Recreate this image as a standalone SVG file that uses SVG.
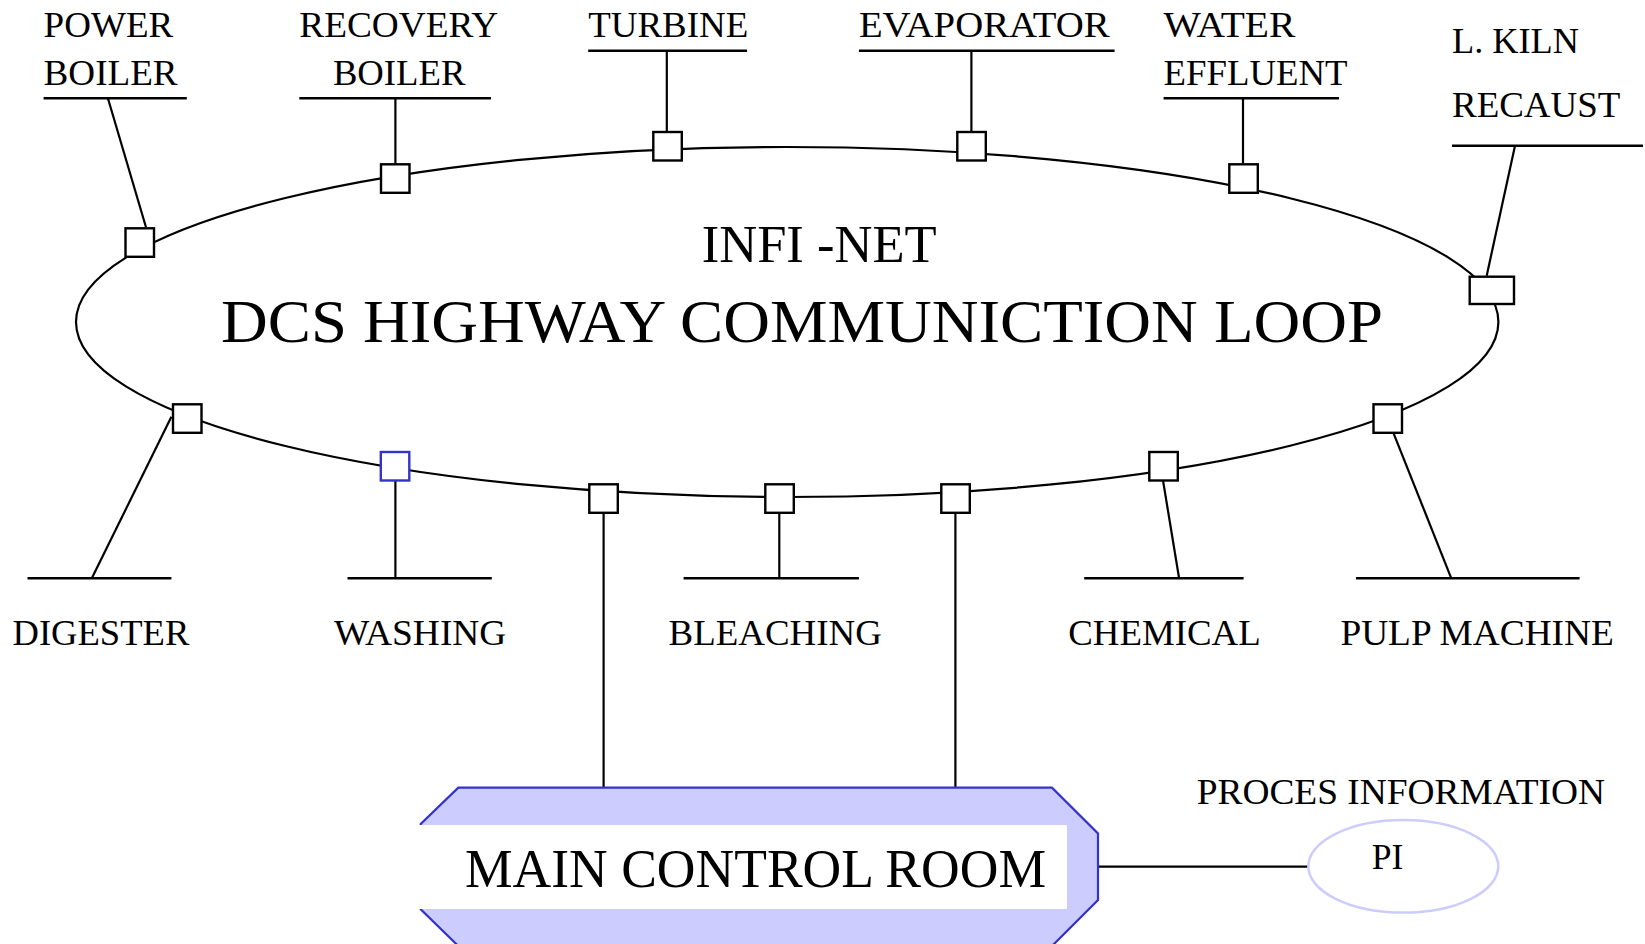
<svg xmlns="http://www.w3.org/2000/svg" width="1645" height="944" viewBox="0 0 1645 944">
<style>
text{font-family:"Liberation Serif","Times New Roman",serif;fill:#000}
.lbl{font-size:35px}
.big{font-size:62px}
.mid{font-size:53px}
.ul{stroke:#000;stroke-width:2.6;fill:none}
.cn{stroke:#000;stroke-width:2.2;fill:none}
.box{fill:#fff;stroke:#000;stroke-width:2.4}
.boxb{fill:#fff;stroke:#3333cc;stroke-width:2.4}
</style>
<rect width="1645" height="944" fill="#fff"/>
<g id="loop">
<ellipse cx="787.2" cy="322" rx="711.2" ry="175" fill="none" stroke="#000" stroke-width="2.2"/>
<text class="mid" x="701.7" y="261.7" textLength="235" lengthAdjust="spacingAndGlyphs">INFI -NET</text>
<text class="big" x="221" y="342" textLength="1162" lengthAdjust="spacingAndGlyphs">DCS HIGHWAY COMMUNICTION LOOP</text>
</g>
<g id="connectors">
<line class="cn" x1="107.9" y1="98.3" x2="146" y2="227.3"/>
<line class="cn" x1="395.4" y1="98.3" x2="395.4" y2="163.3"/>
<line class="cn" x1="666.8" y1="50.7" x2="666.8" y2="131"/>
<line class="cn" x1="971.4" y1="50.7" x2="971.4" y2="131"/>
<line class="cn" x1="1243" y1="98.3" x2="1243" y2="163.3"/>
<line class="cn" x1="1515" y1="145.8" x2="1486.7" y2="275.7"/>
<line class="cn" x1="171.4" y1="416.7" x2="91.8" y2="578.3"/>
<line class="cn" x1="395.4" y1="481" x2="395.4" y2="578.3"/>
<line class="cn" x1="603.6" y1="513.3" x2="603.6" y2="787.7"/>
<line class="cn" x1="779.3" y1="513.3" x2="779.3" y2="578.3"/>
<line class="cn" x1="955.4" y1="513.3" x2="955.4" y2="787.7"/>
<line class="cn" x1="1163.1" y1="481" x2="1179.1" y2="578.3"/>
<line class="cn" x1="1393.6" y1="433.3" x2="1451.3" y2="578.3"/>
<line class="cn" x1="1098" y1="866.7" x2="1308.3" y2="866.7"/>
</g>
<g id="power-boiler">
<text class="lbl" x="43.6" y="36.7" textLength="129.6" lengthAdjust="spacingAndGlyphs">POWER</text>
<text class="lbl" x="43.6" y="85" textLength="134" lengthAdjust="spacingAndGlyphs">BOILER</text>
<line class="ul" x1="43.6" y1="98.3" x2="186.8" y2="98.3"/>
<rect class="box" x="125.5" y="228.3" width="28.5" height="28.5"/>
</g>
<g id="recovery-boiler">
<text class="lbl" x="299.3" y="36.7" textLength="199" lengthAdjust="spacingAndGlyphs">RECOVERY</text>
<text class="lbl" x="332.9" y="85" textLength="132.5" lengthAdjust="spacingAndGlyphs">BOILER</text>
<line class="ul" x1="299.3" y1="98.3" x2="491" y2="98.3"/>
<rect class="box" x="381" y="164.3" width="28.5" height="28.5"/>
</g>
<g id="turbine">
<text class="lbl" x="588.2" y="36.7" textLength="160" lengthAdjust="spacingAndGlyphs">TURBINE</text>
<line class="ul" x1="588.2" y1="50.7" x2="747.1" y2="50.7"/>
<rect class="box" x="653.3" y="132" width="28.5" height="28.5"/>
</g>
<g id="evaporator">
<text class="lbl" x="858.9" y="36.7" textLength="250.8" lengthAdjust="spacingAndGlyphs">EVAPORATOR</text>
<line class="ul" x1="858.9" y1="50.7" x2="1114.6" y2="50.7"/>
<rect class="box" x="957.3" y="132" width="28.5" height="28.5"/>
</g>
<g id="water-effluent">
<text class="lbl" x="1163.6" y="36.7" textLength="131.7" lengthAdjust="spacingAndGlyphs">WATER</text>
<text class="lbl" x="1163.6" y="85" textLength="183.9" lengthAdjust="spacingAndGlyphs">EFFLUENT</text>
<line class="ul" x1="1163.6" y1="98.3" x2="1339" y2="98.3"/>
<rect class="box" x="1229.3" y="164.3" width="28.5" height="28.5"/>
</g>
<g id="lime-kiln">
<text class="lbl" x="1452" y="53.3" textLength="127" lengthAdjust="spacingAndGlyphs">L. KILN</text>
<text class="lbl" x="1452" y="116.7" textLength="168.3" lengthAdjust="spacingAndGlyphs">RECAUST</text>
<line class="ul" x1="1452" y1="145.8" x2="1643" y2="145.8"/>
<rect class="box" x="1469.7" y="276.7" width="44.3" height="27.3"/>
</g>
<g id="digester">
<rect class="box" x="173" y="404.3" width="28.5" height="28.5"/>
<line class="ul" x1="27.5" y1="578.3" x2="171.4" y2="578.3"/>
<text class="lbl" x="12.5" y="645" textLength="176.8" lengthAdjust="spacingAndGlyphs">DIGESTER</text>
</g>
<g id="washing">
<rect class="boxb" x="380.8" y="452" width="28.5" height="28.5"/>
<line class="ul" x1="347.5" y1="578.3" x2="491.8" y2="578.3"/>
<text class="lbl" x="333.9" y="645" textLength="172.5" lengthAdjust="spacingAndGlyphs">WASHING</text>
</g>
<g id="mcr-tap-left">
<rect class="box" x="589.3" y="484.3" width="28.5" height="28.5"/>
</g>
<g id="bleaching">
<rect class="box" x="765.3" y="484.3" width="28.5" height="28.5"/>
<line class="ul" x1="683.6" y1="578.3" x2="858.9" y2="578.3"/>
<text class="lbl" x="668.6" y="645" textLength="213.2" lengthAdjust="spacingAndGlyphs">BLEACHING</text>
</g>
<g id="mcr-tap-right">
<rect class="box" x="941.3" y="484.3" width="28.5" height="28.5"/>
</g>
<g id="chemical">
<rect class="box" x="1149.3" y="452" width="28.5" height="28.5"/>
<line class="ul" x1="1084.2" y1="578.3" x2="1243.6" y2="578.3"/>
<text class="lbl" x="1068.2" y="645" textLength="192.5" lengthAdjust="spacingAndGlyphs">CHEMICAL</text>
</g>
<g id="pulp-machine">
<rect class="box" x="1373.5" y="404.3" width="28.5" height="28.5"/>
<line class="ul" x1="1356" y1="578.3" x2="1579.6" y2="578.3"/>
<text class="lbl" x="1340.4" y="645" textLength="273.4" lengthAdjust="spacingAndGlyphs">PULP MACHINE</text>
</g>
<g id="main-control-room">
<path d="M458.3,787.7 L1052,787.7 L1098,833.5 L1098,900 L1052,946 L458.3,946 L420.7,909.3 L420.7,824 Z" fill="#ccccff" stroke="#3333cc" stroke-width="2.2"/>
<rect x="418" y="825" width="649" height="84" fill="#fff"/>
<text x="465" y="886.7" font-size="54" textLength="581" lengthAdjust="spacingAndGlyphs">MAIN CONTROL ROOM</text>
</g>
<g id="pi">
<text class="lbl" x="1196.7" y="804.3" textLength="408.3" lengthAdjust="spacingAndGlyphs">PROCES INFORMATION</text>
<ellipse cx="1403.3" cy="866.3" rx="95" ry="46.3" fill="#fff" stroke="#ccccff" stroke-width="2.5"/>
<text class="lbl" x="1371.7" y="869" textLength="31.6" lengthAdjust="spacingAndGlyphs">PI</text>
</g>
</svg>
